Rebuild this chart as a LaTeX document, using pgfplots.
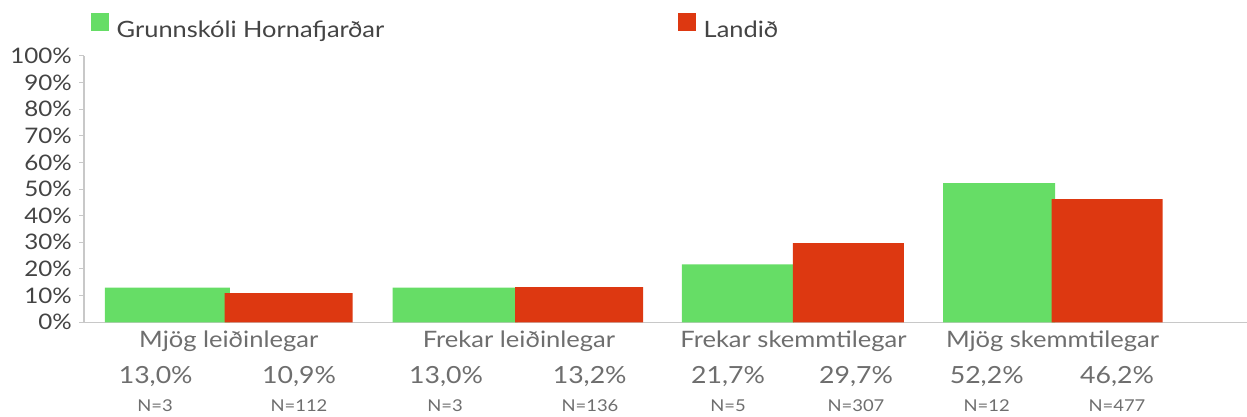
\documentclass[border=0pt]{standalone}
\usepackage{pgfplots}
\pgfplotsset{compat=1.18}
\usepackage{fontspec}
\setmainfont{Lato}[FakeStretch=1.13]
\definecolor{cgreen}{HTML}{66DD66}
\definecolor{cred}{HTML}{DD3811}
\definecolor{axgray}{HTML}{C8C8C8}
\definecolor{tickc}{HTML}{444444}
\definecolor{labc}{HTML}{6E6E6E}
\begin{document}
\begin{tikzpicture}[x=1pt,y=1pt]
\useasboundingbox (0,0) rectangle (1247,416);
\begin{axis}[
  at={(84pt,93.7pt)}, anchor=south west,
  scale only axis, width=1163pt, height=266.6pt,
  xmin=84, xmax=1247, ymin=0, ymax=100,
  ybar, bar shift=0pt,
  axis x line=bottom, axis y line=left,
  axis line style={-, axgray, line width=1.5pt},
  xtick=\empty,
  ytick={0,10,...,100},
  yticklabel={\pgfmathprintnumber{\tick}\%},
  /pgf/number format/assume math mode=true,
  tick align=outside, major tick length=5pt,
  tick style={axgray, line width=1pt},
  yticklabel style={font=\fontsize{21.4}{22}\selectfont, text=tickc, inner sep=1pt, xshift=-6pt},
  clip=false,
  legend columns=2,
  legend style={draw=none, fill=none, inner sep=0pt, outer sep=0pt,
    anchor=north west, at={(0.00576,1.161)}, column sep=0pt,
    nodes={inner sep=0pt, text=tickc, font=\fontsize{22.5}{24}\selectfont}},
  legend image code/.code={\fill[#1] (0pt,-1pt) rectangle (18pt,17pt);},
]
\addplot[fill=cgreen, draw=none, bar width=125] coordinates {(167.3,13.0) (455,13.0)};
\addlegendentry{\hspace{8pt}\makebox[561pt][l]{Grunnskóli Hornafjarðar}}
\addplot[fill=cred, draw=none, bar width=128] coordinates {(288.7,10.9) (579,13.2)};
\addlegendentry{\hspace{8pt}Landið}
\addplot[fill=cgreen, draw=none, bar width=112, forget plot] coordinates {(737.8,21.7) (999,52.2)};
\addplot[fill=cred, draw=none, bar width=111, forget plot] coordinates {(848.3,29.7) (1107,46.2)};
\end{axis}
\begin{scope}[every node/.style={text=labc, inner sep=0pt}]
\foreach \x/\t in {228.8/Mjög leiðinlegar, 519/Frekar leiðinlegar, 793.5/Frekar skemmtilegar, 1052.5/Mjög skemmtilegar}
  \node[anchor=base, font=\fontsize{22.6}{24}\selectfont] at (\x,69) {\t};
\foreach \x/\t in {155.7/{13,0\%}, 299/{10,9\%}, 446/{13,0\%}, 589.7/{13,2\%}, 728/{21,7\%}, 856/{29,7\%}, 986.7/{52,2\%}, 1117/{46,2\%}}
  \node[anchor=base, font=\fontsize{23.6}{25}\selectfont] at (\x,33) {\t};
\foreach \x/\t in {155/N=3, 299/N=112, 445/N=3, 590/N=136, 728/N=5, 856/N=307, 986.7/N=12, 1117/N=477}
  \node[anchor=base, font=\fontsize{16.3}{18}\selectfont] at (\x,4.3) {\t};
\end{scope}
\end{tikzpicture}
\end{document}
